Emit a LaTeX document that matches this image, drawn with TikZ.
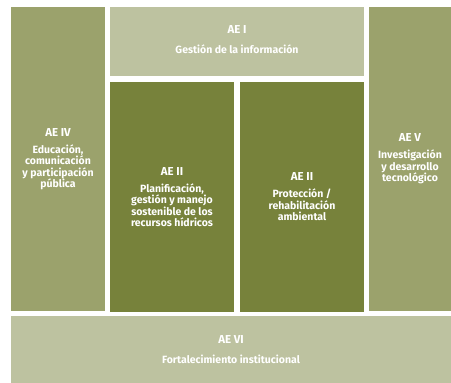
\documentclass[tikz,border=0pt]{standalone}
\usepackage{fontspec}
\setmainfont{Fira Sans}
\definecolor{olivelight}{HTML}{BDC2A0}
\definecolor{olivemid}{HTML}{9BA26C}
\definecolor{olivedark}{HTML}{77823B}
\tikzset{
	area/.style={fill=#1, text=white, inner sep=0pt, align=center, font=\bfseries\fontsize{10.5}{11.5}\selectfont}
}
\newcommand{\aetitle}[2][5.5pt]{{\fontsize{11.5}{12}\selectfont #2}\\[#1]}
\begin{document}
\begin{tikzpicture}[x=1pt,y=-1pt]
	\useasboundingbox (0,0) rectangle (451,383);
	\fill[white] (0,0) rectangle (451,383);
	\node[area=olivemid, minimum width=94pt, minimum height=304pt] (ae4) at (58,159)
		{\aetitle{AE IV}Educación,\\comunicación\\y participación\\pública};
	\node[area=olivelight, minimum width=254pt, minimum height=69pt, text depth=4pt] (ae1) at (237,41.5)
		{\aetitle[8pt]{AE I}Gestión de la información};
	\node[area=olivedark, minimum width=124pt, minimum height=230pt] (ae2a) at (172,197)
		{\aetitle{AE II}Planificación,\\gestión y manejo\\sostenible de los\\recursos hídricos};
	\node[area=olivedark, minimum width=124pt, minimum height=230pt] (ae2b) at (302,197)
		{\aetitle{AE II}Protección /\\rehabilitación\\ambiental};
	\node[area=olivemid, minimum width=82pt, minimum height=304pt] (ae5) at (410,159)
		{\aetitle{AE V}Investigación\\y desarrollo\\tecnológico};
	\node[area=olivelight, minimum width=440pt, minimum height=67pt] (ae6) at (231,349.5)
		{\aetitle[9pt]{AE VI}Fortalecimiento institucional};
\end{tikzpicture}
\end{document}
